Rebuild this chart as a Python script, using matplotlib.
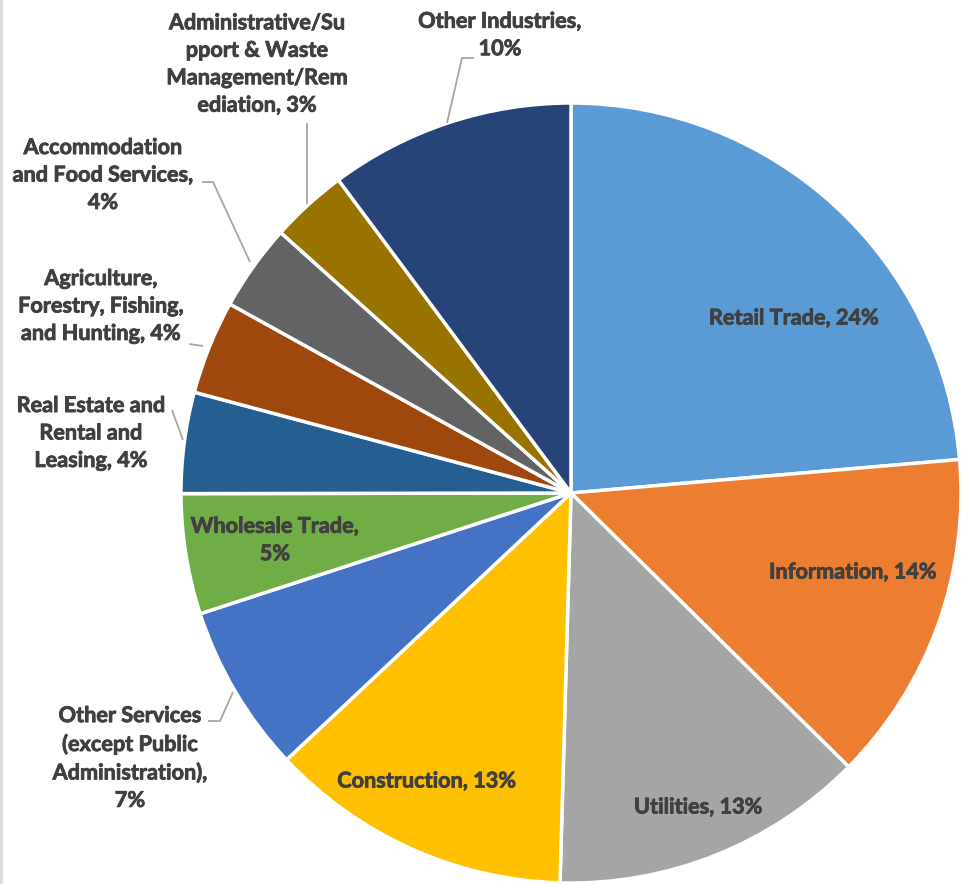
import matplotlib
matplotlib.use("Agg")
import matplotlib.pyplot as plt
import matplotlib.patheffects as pe

# ---- data ----
categories = [
    "Retail Trade", "Information", "Utilities", "Construction",
    "Other Services (except Public Administration)", "Wholesale Trade",
    "Real Estate and Rental and Leasing",
    "Agriculture, Forestry, Fishing, and Hunting",
    "Accommodation and Food Services",
    "Administrative/Support & Waste Management/Remediation",
    "Other Industries",
]
shares = [23.7, 13.8, 13.1, 12.6, 7.0, 5.0, 4.2, 3.9, 3.6, 3.2, 10.2]
label_texts = [
    "Retail Trade, 24%",
    "Information, 14%",
    "Utilities, 13%",
    "Construction, 13%",
    "Other Services\n(except Public\nAdministration),\n7%",
    "Wholesale Trade,\n5%",
    "Real Estate and\nRental and\nLeasing, 4%",
    "Agriculture,\nForestry, Fishing,\nand Hunting, 4%",
    "Accommodation\nand Food Services,\n4%",
    "Administrative/Su\npport & Waste\nManagement/Rem\nediation, 3%",
    "Other Industries,\n10%",
]

# ---- style ----
colors = ["#5B9BD5", "#ED7D31", "#A5A5A5", "#FFC000", "#4472C4", "#70AD47",
          "#255E91", "#9E480E", "#636363", "#997300", "#264478"]
W, H = 961, 884
cx, cy, R = 571, 493, 390

# label centres in image pixel coords
label_pos = [(794, 318), (853, 572), (698, 807), (427, 781), (130, 758),
             (275, 540), (91, 433), (101, 306), (103, 175), (257, 64),
             (500, 35)]
# leader lines (image pixel coords), None for inside labels
leaders = [None, None, None, None,
           [(208, 721), (220, 721), (233, 692)],
           None,
           [(172, 410), (183, 440)],
           [(189, 344), (203, 346)],
           [(202, 182), (213, 182), (250, 262)],
           [(307, 123), (307, 204)],
           [(474, 58), (462, 58), (447, 123)]]

fig = plt.figure(figsize=(W / 100, H / 100), dpi=100)
ax = fig.add_axes([0, 0, 1, 1])
ax.pie(shares, colors=colors, startangle=90, counterclock=False,
       center=(cx, H - cy), radius=R,
       wedgeprops=dict(edgecolor="white", linewidth=2.5, antialiased=True))
ax.set_xlim(0, W)
ax.set_ylim(0, H)
ax.set_aspect("equal")
ax.axis("off")

txt_color = "#404040"
for txt, (x, y) in zip(label_texts, label_pos):
    ax.text(x, H - y, txt, ha="center", va="center", fontsize=15.6,
            fontweight="bold", color=txt_color, family=["Lato", "DejaVu Sans"],
            linespacing=1.38,
            path_effects=[pe.withStroke(linewidth=0.6, foreground=txt_color)])

for ln in leaders:
    if ln is None:
        continue
    xs = [p[0] for p in ln]
    ys = [H - p[1] for p in ln]
    ax.plot(xs, ys, color="#A6A6A6", lw=1.3, solid_capstyle="butt")

# light frame line at left edge
ax.plot([1, 1], [0, H], color="#D9D9D9", lw=2)

fig.savefig("out.png", dpi=100)
